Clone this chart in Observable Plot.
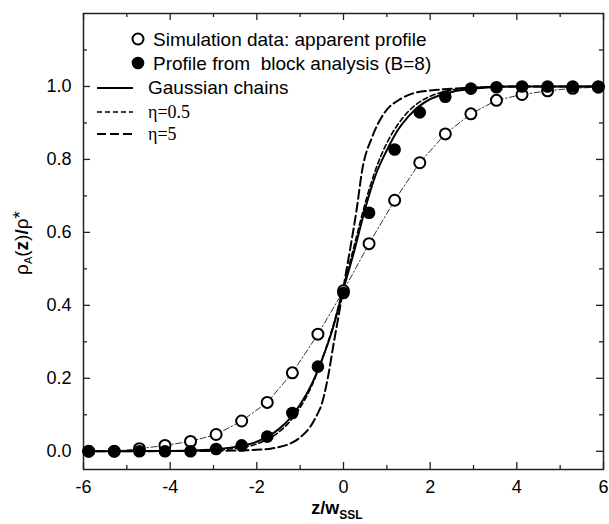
<!DOCTYPE html>
<html><head><meta charset="utf-8">
<script src="https://cdn.jsdelivr.net/npm/d3@7"></script>
<script src="https://cdn.jsdelivr.net/npm/@observablehq/plot@0.6"></script>
<style>body{margin:0;background:#fff} svg{display:block}</style>
</head><body><div id="chart"></div>
<script>
// sample positions z/w_SSL of the simulation bins
const zBins = [-5.88,-5.29,-4.71,-4.12,-3.53,-2.94,-2.35,-1.76,-1.18,-0.59,0,0.59,1.18,1.76,2.35,2.94,3.53,4.12,4.71,5.29,5.88];
// open circles: simulation data, apparent profile
const simApparent = [0,0,0.007,0.016,0.027,0.046,0.083,0.134,0.215,0.321,0.44,0.569,0.688,0.791,0.87,0.925,0.962,0.978,0.988,0.995,0.998];
// filled circles: profile from block analysis (B=8)
const blockProfile = [0,0,0,0,0,0.006,0.016,0.04,0.105,0.232,0.434,0.654,0.827,0.929,0.972,0.994,0.998,1,1,1,1];

// Gaussian chains (solid)
const gaussZ = [-6,-4,-3.5,-3,-2.5,-2,-1.75,-1.5,-1.25,-1,-0.75,-0.5,-0.25,0,0.25,0.5,0.75,1,1.25,1.5,1.75,2,2.5,3,3.5,4,6];
const gaussV = [0,0.001,0.002,0.005,0.012,0.026,0.04,0.06,0.088,0.128,0.18,0.25,0.335,0.445,0.55,0.665,0.76,0.825,0.88,0.918,0.946,0.965,0.985,0.994,0.998,1,1];
// eta = 0.5 (short dash)
const eta05Z = [-6,-4,-3,-2.5,-2,-1.75,-1.5,-1.25,-1,-0.75,-0.5,-0.25,0,0.25,0.5,0.75,1,1.25,1.5,1.75,2,2.5,3,4,6];
const eta05V = [0,0.0005,0.003,0.008,0.02,0.033,0.052,0.08,0.12,0.175,0.25,0.34,0.45,0.565,0.68,0.775,0.845,0.895,0.932,0.957,0.973,0.99,0.997,1,1];
// eta = 5 (long dash)
const eta5Z = [-6,-3,-2.5,-2,-1.68,-1.5,-1.25,-1,-0.75,-0.61,-0.5,-0.38,-0.22,-0.1,0,0.16,0.3,0.43,0.66,0.93,1.32,1.7,2.1,2.5,3,4,6];
const eta5V = [0,0.001,0.002,0.004,0.007,0.011,0.02,0.038,0.07,0.1,0.13,0.19,0.3,0.38,0.45,0.559,0.66,0.77,0.861,0.925,0.966,0.984,0.99,0.994,0.997,1,1];

const xTicks = [-6,-4,-2,0,2,4,6];
const xMinor = [-5,-3,-1,1,3,5];
const yTicks = [0,0.2,0.4,0.6,0.8,1.0];
const yMinor = [0.1,0.3,0.5,0.7,0.9,1.1];

const toRows = (zs, vs) => zs.map((z, i) => ({z, v: vs[i]}));
const simRows = toRows(zBins, simApparent);
const blockRows = toRows(zBins, blockProfile);
const gaussRows = toRows(gaussZ, gaussV);
const eta05Rows = toRows(eta05Z, eta05V);
const eta5Rows = toRows(eta5Z, eta5V);

const font = "'Liberation Sans', Arial, Helvetica, sans-serif";
const serif = "'Liberation Serif', 'Times New Roman', serif";
const frameColor = "#222";

const W = 609, H = 524, mL = 83, mR = 6, mT = 13, mB = 55;
const plotW = W - mL - mR, plotH = H - mT - mB;
const major = 7, minor = 4;
const tickStyle = {stroke: frameColor, strokeWidth: 1.3};

const plot = Plot.plot({
  width: W, height: H,
  marginLeft: mL, marginRight: mR, marginTop: mT, marginBottom: mB,
  x: {domain: [-6, 6]},
  y: {domain: [-0.05, 1.2]},
  style: {fontFamily: font, fontSize: "18px", color: "#000", background: "#fff", overflow: "visible"},
  marks: [
    // tick labels
    Plot.axisX(xTicks, {anchor: "bottom", tickSize: 0, tickPadding: 11, tickFormat: d => String(d), label: null, fontSize: 18}),
    Plot.axisY(yTicks, {anchor: "left", tickSize: 0, tickPadding: 12, tickFormat: d => d.toFixed(1), label: null, fontSize: 18}),
    // inward ticks on all four sides
    Plot.ruleX(xTicks, {x: d => d, insetTop: plotH - major, ...tickStyle}),
    Plot.ruleX(xMinor, {x: d => d, insetTop: plotH - minor, ...tickStyle}),
    Plot.ruleX(xTicks, {x: d => d, insetBottom: plotH - major, ...tickStyle}),
    Plot.ruleX(xMinor, {x: d => d, insetBottom: plotH - minor, ...tickStyle}),
    Plot.ruleY(yTicks, {y: d => d, insetRight: plotW - major, ...tickStyle}),
    Plot.ruleY(yMinor, {y: d => d, insetRight: plotW - minor, ...tickStyle}),
    Plot.ruleY(yTicks, {y: d => d, insetLeft: plotW - major, ...tickStyle}),
    Plot.ruleY(yMinor, {y: d => d, insetLeft: plotW - minor, ...tickStyle}),
    Plot.frame({stroke: frameColor, strokeWidth: 1.5}),
    // curves
    Plot.line(simRows, {x: "z", y: "v", stroke: "#000", strokeWidth: 0.8, strokeDasharray: "6,2.5,1.5,2.5", curve: "linear"}),
    Plot.line(eta05Rows, {x: "z", y: "v", stroke: "#000", strokeWidth: 1.6, strokeDasharray: "5,3", curve: "monotone-x"}),
    Plot.line(eta5Rows, {x: "z", y: "v", stroke: "#000", strokeWidth: 2, strokeDasharray: "9,4", curve: "monotone-x"}),
    Plot.line(gaussRows, {x: "z", y: "v", stroke: "#000", strokeWidth: 2, curve: "monotone-x"}),
    // markers
    Plot.dot(simRows, {x: "z", y: "v", r: 5.5, stroke: "#000", strokeWidth: 2, fill: "#fff"}),
    Plot.dot(blockRows, {x: "z", y: "v", r: 6.3, fill: "#000", stroke: "none"})
  ]
});

document.getElementById("chart").appendChild(plot);

const svg = d3.select(plot);
// axis titles
const xt = svg.append("text")
  .attr("x", 337).attr("y", 514)
  .attr("text-anchor", "middle")
  .attr("font-family", font).attr("font-weight", "bold").attr("font-size", 18).attr("fill", "#000");
xt.append("tspan").text("z/w");
xt.append("tspan").attr("font-size", 12).attr("dy", 5).text("SSL");

const yt = svg.append("text")
  .attr("transform", "translate(28,243) rotate(-90)")
  .attr("text-anchor", "middle")
  .attr("font-family", font).attr("font-size", 19).attr("fill", "#000");
yt.append("tspan").text("ρ");
yt.append("tspan").attr("font-size", 11).attr("dy", 4).text("A");
yt.append("tspan").attr("dy", -4).text("(");
yt.append("tspan").attr("font-weight", "bold").text("z");
yt.append("tspan").text(")");
yt.append("tspan").attr("font-weight", "bold").text("/");
yt.append("tspan").text("ρ");
yt.append("tspan").attr("dy", -2).text("*");

// legend
const leg = svg.append("g").attr("font-family", font).attr("font-size", 19).attr("fill", "#000").attr("text-anchor", "start");
leg.append("circle").attr("cx", 138).attr("cy", 39).attr("r", 5.5).attr("fill", "#fff").attr("stroke", "#000").attr("stroke-width", 2);
leg.append("text").attr("x", 153).attr("y", 46).text("Simulation data: apparent profile");
leg.append("circle").attr("cx", 138).attr("cy", 63).attr("r", 6.3).attr("fill", "#000");
leg.append("text").attr("x", 153).attr("y", 70).style("white-space", "pre").text("Profile from  block analysis (B=8)");
const legLines = [
  {y: 88, dash: null, w: 2, label: "Gaussian chains", serif: false, size: 19},
  {y: 112, dash: "5,3", w: 1.6, label: "η=0.5", serif: true, size: 18},
  {y: 134, dash: "9,4", w: 2, label: "η=5", serif: true, size: 18}
];
legLines.forEach(d => {
  leg.append("line").attr("x1", 97).attr("x2", 133).attr("y1", d.y).attr("y2", d.y)
    .attr("stroke", "#000").attr("stroke-width", d.w).attr("stroke-dasharray", d.dash);
  leg.append("text").attr("x", 148).attr("y", d.y + 6)
    .attr("font-family", d.serif ? serif : font).attr("font-size", d.size)
    .text(d.label);
});
</script>
</body></html>
